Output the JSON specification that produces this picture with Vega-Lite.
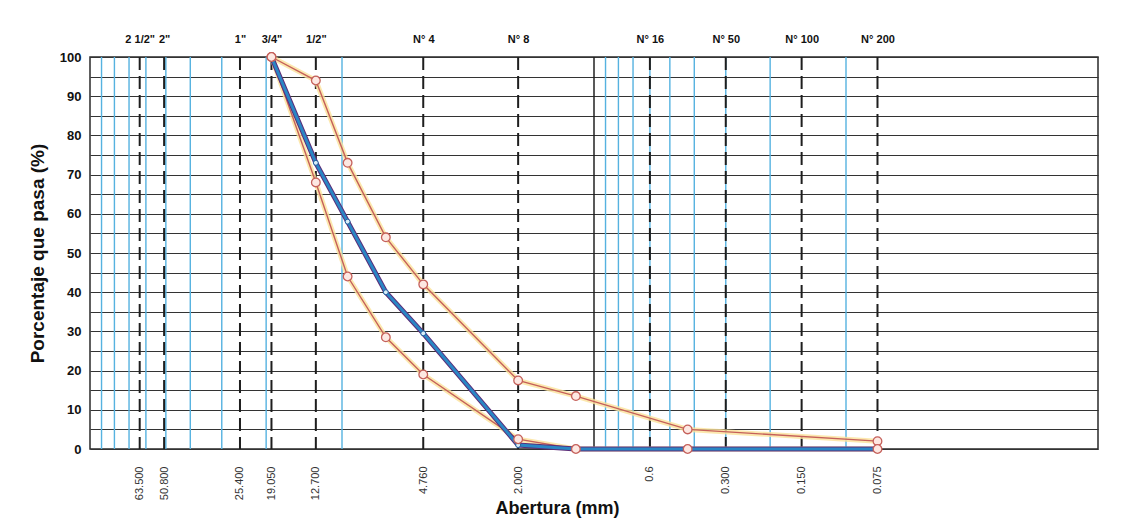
{
  "$schema": "https://vega.github.io/schema/vega-lite/v6.json",
  "width": 1008,
  "height": 392,
  "autosize": {"type": "none"},
  "padding": {"left": 90, "top": 57, "right": 38, "bottom": 82},
  "background": "white",
  "config": {
    "view": {"stroke": "#2a2a2a", "strokeWidth": 1.5},
    "font": "Liberation Sans"
  },
  "datasets": {
    "curvas": [
      {"abertura": 19.05, "pasa": 100, "serie": "Superior"},
      {"abertura": 12.7, "pasa": 94, "serie": "Superior"},
      {"abertura": 9.5, "pasa": 73, "serie": "Superior"},
      {"abertura": 6.7, "pasa": 54, "serie": "Superior"},
      {"abertura": 4.76, "pasa": 42, "serie": "Superior"},
      {"abertura": 2.0, "pasa": 17.5, "serie": "Superior"},
      {"abertura": 1.18, "pasa": 13.5, "serie": "Superior"},
      {"abertura": 0.425, "pasa": 5, "serie": "Superior"},
      {"abertura": 0.075, "pasa": 2, "serie": "Superior"},
      {"abertura": 19.05, "pasa": 100, "serie": "Inferior"},
      {"abertura": 12.7, "pasa": 68, "serie": "Inferior"},
      {"abertura": 9.5, "pasa": 44, "serie": "Inferior"},
      {"abertura": 6.7, "pasa": 28.5, "serie": "Inferior"},
      {"abertura": 4.76, "pasa": 19, "serie": "Inferior"},
      {"abertura": 2.0, "pasa": 2.5, "serie": "Inferior"},
      {"abertura": 1.18, "pasa": 0, "serie": "Inferior"},
      {"abertura": 0.425, "pasa": 0, "serie": "Inferior"},
      {"abertura": 0.075, "pasa": 0, "serie": "Inferior"},
      {"abertura": 19.05, "pasa": 100, "serie": "Muestra"},
      {"abertura": 12.7, "pasa": 73, "serie": "Muestra"},
      {"abertura": 9.5, "pasa": 58, "serie": "Muestra"},
      {"abertura": 6.7, "pasa": 40, "serie": "Muestra"},
      {"abertura": 4.76, "pasa": 29.5, "serie": "Muestra"},
      {"abertura": 2.0, "pasa": 1, "serie": "Muestra"},
      {"abertura": 1.18, "pasa": 0, "serie": "Muestra"},
      {"abertura": 0.425, "pasa": 0, "serie": "Muestra"},
      {"abertura": 0.075, "pasa": 0, "serie": "Muestra"}
    ],
    "lineas": [
      {"abertura": 90, "tipo": "log"},
      {"abertura": 80, "tipo": "log"},
      {"abertura": 70, "tipo": "log"},
      {"abertura": 60, "tipo": "log"},
      {"abertura": 50, "tipo": "log"},
      {"abertura": 40, "tipo": "log"},
      {"abertura": 30, "tipo": "log"},
      {"abertura": 20, "tipo": "log"},
      {"abertura": 10, "tipo": "log"},
      {"abertura": 0.9, "tipo": "log"},
      {"abertura": 0.8, "tipo": "log"},
      {"abertura": 0.7, "tipo": "log"},
      {"abertura": 0.6, "tipo": "log"},
      {"abertura": 0.5, "tipo": "log"},
      {"abertura": 0.4, "tipo": "log"},
      {"abertura": 0.3, "tipo": "log"},
      {"abertura": 0.2, "tipo": "log"},
      {"abertura": 0.1, "tipo": "log"},
      {"abertura": 1, "tipo": "unidad"}
    ],
    "tamices": [
      {"abertura": 63.5, "tamiz": "2 1/2\""},
      {"abertura": 50.8, "tamiz": "2\""},
      {"abertura": 25.4, "tamiz": "1\""},
      {"abertura": 19.05, "tamiz": "3/4\""},
      {"abertura": 12.7, "tamiz": "1/2\""},
      {"abertura": 4.76, "tamiz": "N° 4"},
      {"abertura": 2.0, "tamiz": "N° 8"},
      {"abertura": 0.6, "tamiz": "N° 16"},
      {"abertura": 0.3, "tamiz": "N° 50"},
      {"abertura": 0.15, "tamiz": "N° 100"},
      {"abertura": 0.075, "tamiz": "N° 200"}
    ]
  },
  "resolve": {"axis": {"x": "independent", "y": "independent"}},
  "layer": [
    {
      "data": {"name": "lineas"},
      "transform": [{"filter": "datum.tipo == 'log'"}],
      "mark": {"type": "rule", "color": "#55b2e0", "strokeWidth": 1.4},
      "encoding": {
        "x": {"field": "abertura", "type": "quantitative", "scale": {"type": "log", "domain": [0.01, 100], "reverse": true, "nice": false}, "axis": null}
      }
    },
    {
      "data": {"name": "lineas"},
      "transform": [{"filter": "datum.tipo == 'unidad'"}],
      "mark": {"type": "rule", "color": "#222222", "strokeWidth": 1.5},
      "encoding": {
        "x": {"field": "abertura", "type": "quantitative", "axis": null}
      }
    },
    {
      "data": {"name": "tamices"},
      "mark": {"type": "rule", "color": "#1e1e1e", "strokeWidth": 2, "strokeDash": [13, 6]},
      "encoding": {
        "x": {
          "field": "abertura",
          "type": "quantitative",
          "axis": {
            "orient": "top",
            "values": [63.5, 50.8, 25.4, 19.05, 12.7, 4.76, 2, 0.6, 0.3, 0.15, 0.075],
            "labelExpr": "datum.value == 63.5 ? '2 1/2\"' : datum.value == 50.8 ? '2\"' : datum.value == 25.4 ? '1\"' : datum.value == 19.05 ? '3/4\"' : datum.value == 12.7 ? '1/2\"' : datum.value == 4.76 ? 'N° 4' : datum.value == 2 ? 'N° 8' : datum.value == 0.6 ? 'N° 16' : datum.value == 0.3 ? 'N° 50' : datum.value == 0.15 ? 'N° 100' : 'N° 200'",
            "labelFont": "Liberation Sans Narrow, Liberation Sans, sans-serif",
            "labelFontSize": 11,
            "labelFontWeight": "bold",
            "labelColor": "#111111",
            "labelPadding": 13,
            "labelOverlap": false,
            "labelFlush": false,
            "labelBound": false,
            "ticks": false,
            "domain": false,
            "grid": false,
            "title": null
          }
        }
      }
    },
    {
      "data": {"name": "curvas"},
      "transform": [{"filter": "datum.serie != 'Muestra'"}],
      "mark": {"type": "line", "color": "#fbe29a", "strokeWidth": 5, "opacity": 0.8},
      "encoding": {
        "x": {
          "field": "abertura",
          "type": "quantitative",
          "axis": {
            "orient": "bottom",
            "values": [63.5, 50.8, 25.4, 19.05, 12.7, 4.76, 2, 0.6, 0.3, 0.15, 0.075],
            "labelExpr": "datum.value == 0.6 ? '0.6' : format(datum.value, '.3f')",
            "labelAngle": 270,
            "labelFont": "Liberation Sans Narrow, Liberation Sans, sans-serif",
            "labelFontSize": 11,
            "labelColor": "#333333",
            "labelPadding": 17,
            "labelOverlap": false,
            "labelFlush": false,
            "labelBound": false,
            "ticks": false,
            "domain": false,
            "grid": false,
            "title": "Abertura (mm)",
            "titleFontSize": 18,
            "titleFontWeight": "bold",
            "titleColor": "#111111",
            "titleX": 467,
            "titleY": 59,
            "titleBaseline": "middle"
          }
        },
        "y": {
          "field": "pasa",
          "type": "quantitative",
          "scale": {"domain": [0, 100], "nice": false},
          "axis": {
            "values": [0, 5, 10, 15, 20, 25, 30, 35, 40, 45, 50, 55, 60, 65, 70, 75, 80, 85, 90, 95, 100],
            "labelExpr": "datum.value % 10 == 0 ? datum.label : ''",
            "labelOverlap": false,
            "labelFontSize": 13,
            "labelFontWeight": "bold",
            "labelColor": "#111111",
            "labelPadding": 9,
            "ticks": false,
            "domain": false,
            "grid": true,
            "gridColor": "#333333",
            "gridWidth": 1,
            "title": "Porcentaje que pasa (%)",
            "titleFontSize": 19,
            "titleFontWeight": "bold",
            "titleColor": "#111111",
            "titlePadding": 12
          }
        },
        "detail": {"field": "serie"}
      }
    },
    {
      "data": {"name": "curvas"},
      "transform": [{"filter": "datum.serie != 'Muestra'"}],
      "mark": {"type": "line", "color": "#c5605a", "strokeWidth": 1.4},
      "encoding": {
        "x": {"field": "abertura", "type": "quantitative", "axis": null},
        "y": {"field": "pasa", "type": "quantitative", "axis": null},
        "detail": {"field": "serie"}
      }
    },
    {
      "data": {"name": "curvas"},
      "transform": [{"filter": "datum.serie == 'Muestra'"}],
      "mark": {"type": "line", "color": "#5b2d78", "strokeWidth": 5},
      "encoding": {
        "x": {"field": "abertura", "type": "quantitative", "axis": null},
        "y": {"field": "pasa", "type": "quantitative", "axis": null}
      }
    },
    {
      "data": {"name": "curvas"},
      "transform": [{"filter": "datum.serie == 'Muestra'"}],
      "mark": {"type": "line", "color": "#2a86c4", "strokeWidth": 3},
      "encoding": {
        "x": {"field": "abertura", "type": "quantitative", "axis": null},
        "y": {"field": "pasa", "type": "quantitative", "axis": null}
      }
    },
    {
      "data": {"name": "curvas"},
      "transform": [{"filter": "datum.serie == 'Muestra'"}],
      "mark": {"type": "point", "shape": "circle", "filled": true, "fill": "#d8eef8", "stroke": "#1f5fa0", "strokeWidth": 1, "size": 24, "opacity": 1},
      "encoding": {
        "x": {"field": "abertura", "type": "quantitative", "axis": null},
        "y": {"field": "pasa", "type": "quantitative", "axis": null}
      }
    },
    {
      "data": {"name": "curvas"},
      "transform": [{"filter": "datum.serie != 'Muestra'"}],
      "mark": {"type": "point", "shape": "circle", "filled": true, "fill": "#fde8e2", "stroke": "#c5605a", "strokeWidth": 1.3, "size": 75, "opacity": 1},
      "encoding": {
        "x": {"field": "abertura", "type": "quantitative", "axis": null},
        "y": {"field": "pasa", "type": "quantitative", "axis": null}
      }
    }
  ]
}
